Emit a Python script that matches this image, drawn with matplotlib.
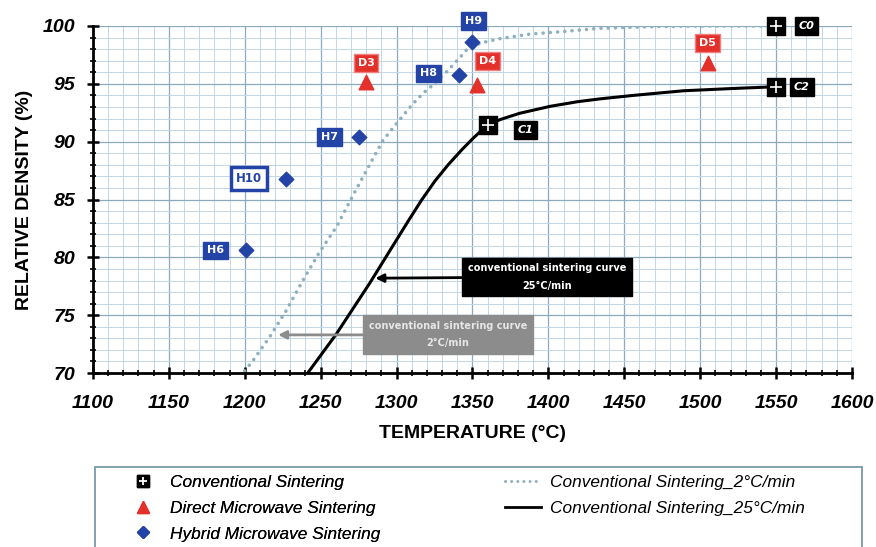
import matplotlib
matplotlib.use('Agg')
import matplotlib.pyplot as plt
from matplotlib.ticker import MultipleLocator
from matplotlib.lines import Line2D
from matplotlib.patches import Rectangle
from matplotlib.legend_handler import HandlerTuple

# point data
conv_labels = ['C0', 'C1', 'C2']
conv_temp = [1550, 1360, 1550]
conv_dens = [100.0, 91.4, 94.7]

dms_labels = ['D3', 'D4', 'D5']
dms_temp = [1280, 1353, 1505]
dms_dens = [95.2, 94.9, 96.8]

hms_labels = ['H6', 'H7', 'H8', 'H9', 'H10']
hms_temp = [1201, 1275, 1341, 1350, 1227]
hms_dens = [80.6, 90.4, 95.8, 98.6, 86.8]

# sintering curves
curve2_temp = [1197, 1205.6, 1216.6, 1227.6, 1238.5, 1249.5, 1260.5, 1271.5, 1281,
               1291, 1305.5, 1311, 1317.6, 1324, 1332, 1337, 1344, 1347, 1356,
               1368, 1388, 1408, 1434, 1467, 1500, 1550]
curve2_dens = [69.7, 71.1, 73.15, 75.45, 78.05, 80.5, 82.65, 85.4, 87.7,
               90.1, 92.45, 93.3, 94.2, 94.9, 95.9, 96.6, 97.6, 98.07, 98.55,
               98.9, 99.3, 99.5, 99.8, 99.94, 100.0, 100.0]
curve25_temp = [1241.5, 1260.5, 1282.5, 1308, 1316.5, 1325.3, 1334, 1343, 1350.5, 1355,
                1360, 1368, 1381, 1401, 1419, 1434, 1456, 1489, 1522, 1550]
curve25_dens = [70.0, 73.4, 77.8, 83.2, 84.95, 86.6, 88.0, 89.3, 90.3, 90.85,
                91.4, 91.9, 92.45, 93.05, 93.45, 93.7, 94.0, 94.4, 94.6, 94.75]

RED = '#e3302a'
BLUE = '#2443a6'
DOT = '#8fb0bf'
FONT = 'Liberation Sans'

fig = plt.figure(figsize=(8.76, 5.47), dpi=100)
ax = fig.add_axes([0.106, 0.318, 0.8666, 0.6345])

ax.set_xlim(1100, 1600)
ax.set_ylim(70, 100)
ax.xaxis.set_major_locator(MultipleLocator(50))
ax.xaxis.set_minor_locator(MultipleLocator(10))
ax.yaxis.set_major_locator(MultipleLocator(5))
ax.yaxis.set_minor_locator(MultipleLocator(1))
ax.grid(which='major', color='#8aaabf', lw=0.9)
ax.grid(which='minor', color='#c2d6e4', lw=0.7)
ax.set_axisbelow(True)
for s in ['top', 'right']:
    ax.spines[s].set_visible(False)
for s in ['left', 'bottom']:
    ax.spines[s].set_linewidth(2)
ax.tick_params(which='major', direction='inout', length=9, width=1.8)
ax.tick_params(which='minor', direction='inout', length=5, width=1.2)
for lab in ax.get_xticklabels() + ax.get_yticklabels():
    lab.set_fontweight('bold')
    lab.set_fontstyle('italic')
    lab.set_fontsize(14)
    lab.set_fontfamily(FONT)
ax.tick_params(axis='x', pad=11)
ax.tick_params(axis='y', pad=8)

ax.set_xlabel('TEMPERATURE (°C)', fontsize=14, fontweight='bold', family=FONT, labelpad=10)
ax.set_ylabel('RELATIVE DENSITY (%)', fontsize=14, fontweight='bold', family=FONT, labelpad=7)

# curves
ax.plot(curve2_temp, curve2_dens, color=DOT, lw=2.6, linestyle=(0, (0.01, 2.0)),
        dash_capstyle='round', zorder=2)
ax.plot(curve25_temp, curve25_dens, color='black', lw=2.2, zorder=2)

# markers
ax.scatter(conv_temp, conv_dens, marker='s', s=150, color='black', zorder=4, clip_on=False)
ax.scatter(conv_temp, conv_dens, marker='+', s=70, color='white', linewidths=1.2, zorder=5, clip_on=False)
ax.scatter(dms_temp, dms_dens, marker='^', s=110, color=RED, zorder=4)
ax.scatter(hms_temp, hms_dens, marker='D', s=55, color=BLUE, zorder=4)

# point labels
conv_lab_pos = [(1570, 100.0), (1385, 91.0), (1567, 94.7)]
dms_lab_pos = [(1280, 96.8), (1360, 97.0), (1505, 98.5)]
hms_lab_pos = [(1181, 80.6), (1256, 90.4), (1321, 95.9), (1351, 100.4), (1203, 86.8)]

for lab, (x, y) in zip(conv_labels, conv_lab_pos):
    ax.text(x, y, lab, color='white', fontsize=8, fontweight='bold', fontstyle='italic',
            ha='center', va='center', zorder=6, clip_on=False,
            bbox=dict(boxstyle='square,pad=0.35', fc='black', ec='black'))
for lab, (x, y) in zip(dms_labels, dms_lab_pos):
    ax.text(x, y, lab, color='white', fontsize=8, fontweight='bold',
            ha='center', va='center', zorder=6,
            bbox=dict(boxstyle='square,pad=0.35', fc=RED, ec='#f08080'))
for lab, (x, y) in zip(hms_labels, hms_lab_pos):
    if lab == 'H10':
        ax.text(x, y, lab, color=BLUE, fontsize=8.5, fontweight='bold',
                ha='center', va='center', zorder=6,
                bbox=dict(boxstyle='square,pad=0.4', fc='white', ec=BLUE, lw=2.5))
    else:
        ax.text(x, y, lab, color='white', fontsize=8, fontweight='bold',
                ha='center', va='center', zorder=6, clip_on=False,
                bbox=dict(boxstyle='square,pad=0.35', fc=BLUE, ec=BLUE))

# curve annotations
ax.annotate('conventional sintering curve\n25°C/min', xy=(1286, 78.2), xytext=(1399, 78.3),
            fontsize=7, fontweight='bold', color='white', ha='center', va='center',
            linespacing=1.9, zorder=6,
            bbox=dict(boxstyle='square,pad=0.6', fc='black', ec='black'),
            arrowprops=dict(arrowstyle='-|>', color='black', lw=2, mutation_scale=12,
                            shrinkA=0, shrinkB=0))
ax.annotate('conventional sintering curve\n2°C/min', xy=(1222, 73.3), xytext=(1334, 73.3),
            fontsize=7, fontweight='bold', color='#e6e6e6', ha='center', va='center',
            linespacing=1.9, zorder=6,
            bbox=dict(boxstyle='square,pad=0.6', fc='#8c8c8c', ec='#8c8c8c'),
            arrowprops=dict(arrowstyle='-|>', color='#8c8c8c', lw=2, mutation_scale=12,
                            shrinkA=0, shrinkB=0))

# legend: two blocks inside one frame that runs off the bottom of the figure
W, H = 876, 547
fig.patches.append(Rectangle((95 / W, -0.05), (862 - 95) / W, 0.05 + (H - 467) / H,
                             transform=fig.transFigure, fill=False,
                             ec='#7a9aaa', lw=1.3))
h_conv = (Line2D([], [], marker='s', color='black', ls='', ms=9),
          Line2D([], [], marker='+', color='white', ls='', ms=6, mew=1.3))
h_dms = Line2D([], [], marker='^', color=RED, ls='', ms=8)
h_hms = Line2D([], [], marker='D', color=BLUE, ls='', ms=6)
h_c2 = Line2D([], [], color=DOT, lw=2.2, ls=(0, (0.01, 2.0)), dash_capstyle='round')
h_c25 = Line2D([], [], color='black', lw=2)
leg_prop = {'style': 'italic', 'size': 12.4, 'family': FONT}
leg1 = fig.legend([h_conv, h_dms, h_hms],
                  ['Conventional Sintering', 'Direct Microwave Sintering',
                   'Hybrid Microwave Sintering'],
                  handler_map={tuple: HandlerTuple(ndivide=1, pad=0)},
                  loc='upper left', bbox_to_anchor=(125 / W, (H - 475) / H),
                  frameon=False, prop=leg_prop, handlelength=2.1, handletextpad=0.5,
                  labelspacing=0.62, borderpad=0, borderaxespad=0)
fig.legend([h_c2, h_c25],
           ['Conventional Sintering_2°C/min', 'Conventional Sintering_25°C/min'],
           loc='upper left', bbox_to_anchor=(505 / W, (H - 475) / H),
           frameon=False, prop=leg_prop, handlelength=2.1, handletextpad=0.5,
           labelspacing=0.62, borderpad=0, borderaxespad=0)
fig.add_artist(leg1)

fig.savefig('out.png', dpi=100)
